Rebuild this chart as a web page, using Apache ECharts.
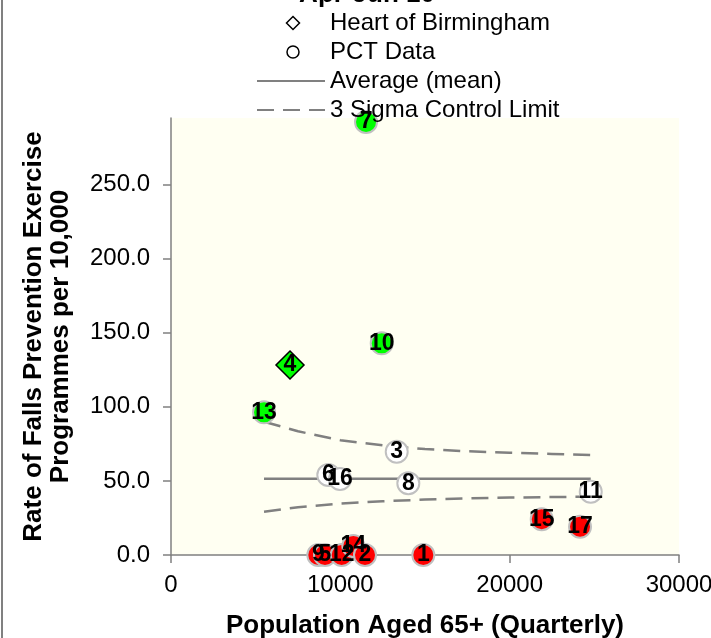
<!DOCTYPE html>
<html>
<head>
<meta charset="utf-8">
<script src="https://cdn.jsdelivr.net/npm/echarts@6/dist/echarts.min.js"></script>
<style>
html,body{margin:0;padding:0;background:#fff;}
#chart{width:711px;height:638px;}
</style>
</head>
<body>
<div id="chart"></div>
<script>
// PCT data (population aged 65+, rate per 10,000, status vs control limits)
const pctIds    = ['9','5','12','14','2','1','6','16','8','3','13','10','7','15','17','11'];
const pctPop    = [8700, 9095, 10081, 10767, 11457, 14901, 9290, 9981, 14015, 13330, 5493, 12444, 11517, 21893, 24155, 24788];
const pctRate   = [0, 0, 0, 6.1, 0, 0, 54.0, 51.3, 48.4, 69.7, 96.3, 142.9, 292.3, 24.1, 19.1, 42.7];
const pctStatus = ['low','low','low','low','low','low','mid','mid','mid','mid','high','high','high','low','low','mid'];

// Heart of Birmingham
const heartId   = '4';
const heartPop  = 7028;
const heartRate = 128.3;

// Average (mean)
const meanPop  = [5493, 24788];
const meanRate = [51.5, 51.5];

// 3 sigma control limits
const limitPop   = [5493, 7500, 10000, 12500, 15000, 17500, 20000, 22500, 24788];
const upperLimit = [90.0, 83.5, 77.5, 74.0, 71.5, 70.0, 69.0, 68.2, 67.5];
const lowerLimit = [29.2, 32.3, 34.7, 36.3, 37.4, 38.2, 38.8, 39.1, 39.4];

// axis ticks
const xTicks = [0, 10000, 20000, 30000];
const yTicks = [0, 50, 100, 150, 200, 250];

const statusColor = { high: '#00ff00', low: '#ff0000', mid: '#ffffff' };
const FONT = "'Liberation Sans', Arial, sans-serif";
const NUMFONT = "'Liberation Sans Narrow', 'Liberation Sans', Arial, sans-serif";
const GREY = '#808080';
const NOSYM = { color: 'rgba(0,0,0,0)', borderWidth: 0, opacity: 0 };

const pctData = pctIds.map((id, i) => ({
  name: id,
  value: [pctPop[i], pctRate[i]],
  itemStyle: { color: statusColor[pctStatus[i]] }
}));

const chart = echarts.init(document.getElementById('chart'));
chart.setOption({
  backgroundColor: '#ffffff',
  animation: false,
  title: {
    text: 'Apr-Jun 10',
    left: 362,
    top: -23,
    textAlign: 'center',
    textStyle: { fontFamily: FONT, fontSize: 26, fontWeight: 'bold', color: '#000' }
  },
  legend: {
    orient: 'vertical',
    left: 251,
    top: 6,
    itemWidth: 68,
    itemHeight: 14,
    itemGap: 5,
    symbolKeepAspect: true,
    selectedMode: false,
    textStyle: { fontFamily: FONT, fontSize: 24, color: '#000', lineHeight: 24 },
    data: [
      { name: 'Heart of Birmingham', icon: 'path://M0,0 M68,14 M36,0.5 L42.5,7 L36,13.5 L29.5,7 Z',
        itemStyle: { color: '#fff', borderColor: '#000', borderWidth: 1.5 } },
      { name: 'PCT Data', icon: 'path://M0,0 M68,14 M42,7 A6,6 0 1 1 30,7 A6,6 0 1 1 42,7 Z',
        itemStyle: { color: '#fff', borderColor: '#000', borderWidth: 1.5 } },
      { name: 'Average (mean)', itemStyle: NOSYM },
      { name: '3 Sigma Control Limit', itemStyle: NOSYM }
    ]
  },
  graphic: [
    { type: 'rect', left: 1, top: 0, shape: { width: 2, height: 638 }, style: { fill: GREY } }
  ],
  grid: {
    left: 171, top: 118, right: 32, bottom: 83,
    outerBoundsMode: 'none',
    containLabel: false,
    show: true, backgroundColor: '#fffff2', borderWidth: 0
  },
  xAxis: {
    type: 'value',
    min: 0, max: 30000, interval: 10000,
    name: 'Population Aged 65+ (Quarterly)',
    nameLocation: 'middle',
    nameGap: 58,
    nameTextStyle: { fontFamily: FONT, fontSize: 26, fontWeight: 'bold', color: '#000' },
    axisLine: { onZero: false, lineStyle: { color: GREY, width: 1.5 } },
    axisTick: { show: true, length: 8, customValues: xTicks, lineStyle: { color: GREY, width: 1.5 } },
    axisLabel: { customValues: xTicks, margin: 18, fontFamily: FONT, fontSize: 24, color: '#000',
      formatter: v => String(v) },
    splitLine: { show: false }
  },
  yAxis: {
    type: 'value',
    min: 0, max: 295, interval: 50,
    name: 'Rate of Falls Prevention Exercise\nProgrammes per 10,000',
    nameLocation: 'middle',
    nameRotate: 90,
    nameGap: 97,
    nameTextStyle: { fontFamily: FONT, fontSize: 26, fontWeight: 'bold', color: '#000', lineHeight: 27 },
    axisLine: { onZero: false, lineStyle: { color: GREY, width: 1.5 } },
    axisTick: { show: true, length: 8, customValues: yTicks, lineStyle: { color: GREY, width: 1.5 } },
    axisLabel: {
      customValues: yTicks, margin: 21, fontFamily: FONT, fontSize: 24, color: '#000',
      formatter: v => v.toFixed(1)
    },
    splitLine: { show: false }
  },
  series: [
    {
      name: '3 Sigma Control Limit', type: 'line', symbol: 'none', showSymbol: false, z: 2,
      lineStyle: { color: GREY, width: 2.5, type: [17, 9] }, itemStyle: { color: GREY },
      data: limitPop.map((x, i) => [x, upperLimit[i]])
    },
    {
      name: '3 Sigma Control Limit', type: 'line', symbol: 'none', showSymbol: false, z: 2,
      lineStyle: { color: GREY, width: 2.5, type: [17, 9] }, itemStyle: { color: GREY },
      data: limitPop.map((x, i) => [x, lowerLimit[i]])
    },
    {
      name: 'Average (mean)', type: 'line', symbol: 'none', showSymbol: false, z: 2,
      lineStyle: { color: GREY, width: 2.5 }, itemStyle: { color: GREY },
      data: meanPop.map((x, i) => [x, meanRate[i]])
    },
    {
      name: 'PCT Data', type: 'scatter', symbol: 'circle', symbolSize: 22, z: 3,
      itemStyle: { borderColor: '#c0c0c0', borderWidth: 2, opacity: 1 },
      label: {
        show: true, position: 'inside', formatter: '{b}',
        fontFamily: NUMFONT, fontWeight: 'bold', fontSize: 23, color: '#000'
      },
      data: pctData
    },
    {
      name: 'Heart of Birmingham', type: 'scatter', symbol: 'diamond', symbolSize: 28, z: 4,
      itemStyle: { color: '#00ff00', borderColor: '#000', borderWidth: 1.5, opacity: 1 },
      label: {
        show: true, position: 'inside', formatter: '{b}',
        fontFamily: NUMFONT, fontWeight: 'bold', fontSize: 23, color: '#000'
      },
      data: [{ name: heartId, value: [heartPop, heartRate] }]
    }
  ]
});
</script>
</body>
</html>
